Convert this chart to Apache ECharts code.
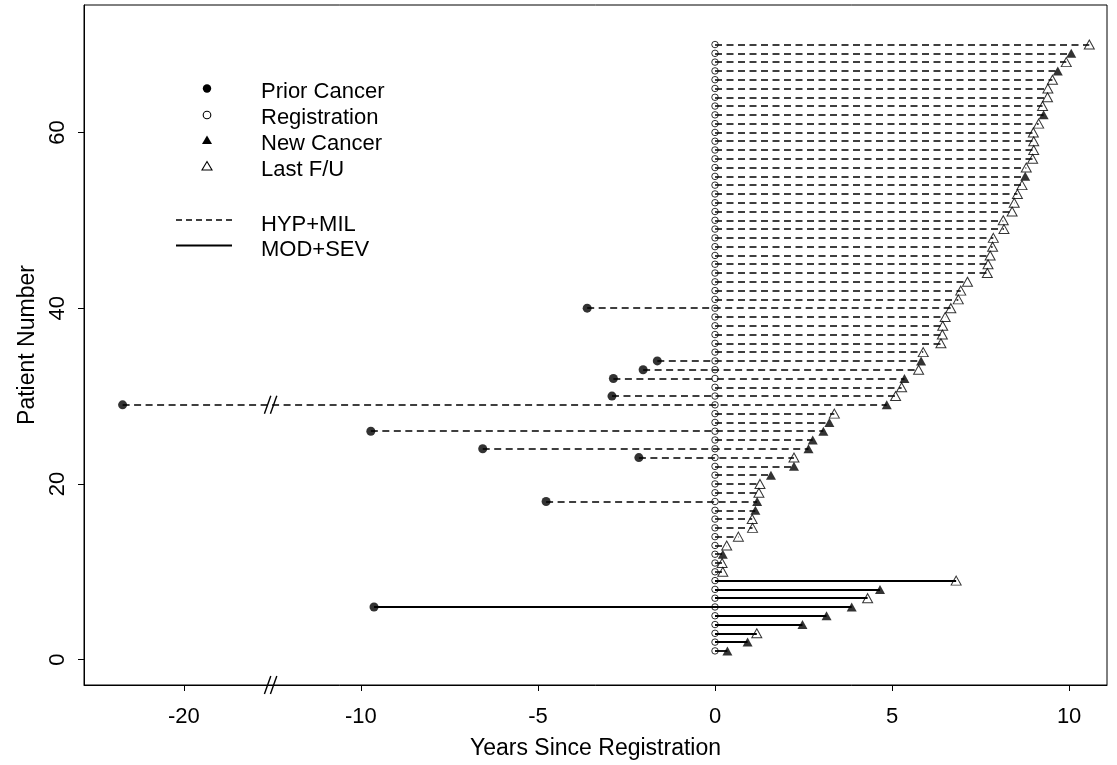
<!DOCTYPE html>
<html>
<head>
<meta charset="utf-8">
<script src="https://cdn.jsdelivr.net/npm/echarts@6/dist/echarts.min.js"></script>
<style>
html,body{margin:0;padding:0;background:#fff;}
#chart{width:1117px;height:765px;}
</style>
</head>
<body>
<div id="chart"></div>
<script>
// ---------------- data ----------------
const patientNumbers = [
  1,2,3,4,5,6,7,8,9,10,11,12,13,14,15,16,17,18,19,20,
  21,22,23,24,25,26,27,28,29,30,31,32,33,34,35,36,37,38,39,40,
  41,42,43,44,45,46,47,48,49,50,51,52,53,54,55,56,57,58,59,60,
  61,62,63,64,65,66,67,68,69,70
];
// years from registration to end of follow-up (new cancer or last F/U)
const endYears = [
  0.35,0.92,1.18,2.47,3.15,3.86,4.31,4.66,6.81,0.22,
  0.20,0.22,0.33,0.66,1.06,1.05,1.14,1.19,1.24,1.27,
  1.58,2.23,2.23,2.64,2.76,3.06,3.23,3.37,4.85,5.10,
  5.27,5.35,5.75,5.82,5.88,6.38,6.42,6.43,6.50,6.66,
  6.87,6.94,7.13,7.69,7.71,7.77,7.84,7.86,8.16,8.14,
  8.39,8.45,8.54,8.67,8.76,8.79,8.97,9.00,9.00,8.99,
  9.14,9.28,9.25,9.39,9.40,9.53,9.68,9.92,10.06,10.57
];
// N = new cancer, L = last follow-up
const endType = [
  'N','N','L','N','N','N','L','N','L','L',
  'L','N','L','L','L','L','N','N','L','L',
  'N','N','L','N','N','N','N','L','N','L',
  'L','N','L','N','L','L','L','L','L','L',
  'L','L','L','L','L','L','L','L','L','L',
  'L','L','L','L','N','L','L','L','L','L',
  'L','N','L','L','L','L','N','L','N','L'
];
// group: MOD+SEV for patients 1-9, HYP+MIL for the rest
const groupOf = [
  'S','S','S','S','S','S','S','S','S','H',
  'H','H','H','H','H','H','H','H','H','H',
  'H','H','H','H','H','H','H','H','H','H',
  'H','H','H','H','H','H','H','H','H','H',
  'H','H','H','H','H','H','H','H','H','H',
  'H','H','H','H','H','H','H','H','H','H',
  'H','H','H','H','H','H','H','H','H','H'
];
const priorPatients = [6, 18, 23, 24, 26, 29, 30, 32, 33, 34, 40];
const priorYears    = [-9.63, -4.77, -2.15, -6.56, -9.72, -21.73, -2.91, -2.87, -2.03, -1.63, -3.61];
const xTickValues = [-20, -10, -5, 0, 5, 10];
const yTickValues = [0, 20, 40, 60];

// axis break: years before BREAK_LEFT are drawn shifted right by BREAK_SHIFT
const BREAK_LEFT = -17.55;
const BREAK_SHIFT = 5;
function toAxis(v) { return v < BREAK_LEFT ? v + BREAK_SHIFT : v; }
function fromAxis(v) { return v < BREAK_LEFT + BREAK_SHIFT ? v - BREAK_SHIFT : v; }
const breakMarkX = BREAK_LEFT + BREAK_SHIFT;

// ---------------- build series data ----------------
const dashedLines = [], solidLines = [];
const regPts = [], priorPts = [], newPts = [], lastPts = [];
patientNumbers.forEach((p, i) => {
  const pi = priorPatients.indexOf(p);
  const start = pi >= 0 ? toAxis(priorYears[pi]) : 0;
  const seg = { coords: [[start, p], [toAxis(endYears[i]), p]] };
  (groupOf[i] === 'S' ? solidLines : dashedLines).push(seg);
  regPts.push([0, p]);
  if (pi >= 0) priorPts.push([toAxis(priorYears[pi]), p]);
  (endType[i] === 'N' ? newPts : lastPts).push([toAxis(endYears[i]), p]);
});

const FONT = '"Liberation Sans", Arial, Helvetica, sans-serif';
const chart = echarts.init(document.getElementById('chart'), null, { renderer: 'canvas' });

const xMin = -17.82, xMax = 11.07;
const yMin = -2.88, yMax = 74.5;

function breakMark(params, api) {
  const c = api.coord([api.value(0), api.value(1)]);
  const kids = [-3, 3].map(dx => ({
    type: 'line',
    shape: { x1: c[0] + dx - 3.2, y1: c[1] + 9, x2: c[0] + dx + 3.2, y2: c[1] - 9 },
    style: { stroke: '#000', lineWidth: 1.4 }
  }));
  return { type: 'group', children: kids };
}

const legendX = 207, legendTextX = 261;
const graphic = [
  { type: 'circle', shape: { cx: legendX, cy: 88.5, r: 4.2 }, style: { fill: '#000' } },
  { type: 'circle', shape: { cx: legendX, cy: 115, r: 3.8 }, style: { fill: 'none', stroke: '#000', lineWidth: 1.1 } },
  { type: 'polygon', shape: { points: [[legendX - 5, 144], [legendX + 5, 144], [legendX, 135.5]] }, style: { fill: '#000' } },
  { type: 'polygon', shape: { points: [[legendX - 5, 170], [legendX + 5, 170], [legendX, 161.5]] }, style: { fill: 'none', stroke: '#000', lineWidth: 1.1 } },
  { type: 'line', shape: { x1: 176, y1: 220, x2: 232, y2: 220 }, style: { stroke: '#000', lineWidth: 1.5, lineDash: [6, 4] } },
  { type: 'line', shape: { x1: 176, y1: 245.5, x2: 232, y2: 245.5 }, style: { stroke: '#000', lineWidth: 1.8 } }
];
const legendLabels = [['Prior Cancer', 92], ['Registration', 117.5], ['New Cancer', 143.5], ['Last F/U', 169.5], ['HYP+MIL', 225], ['MOD+SEV', 249.5]];
legendLabels.forEach(([t, y]) => graphic.push({
  type: 'text', x: legendTextX, y: y,
  style: { text: t, font: '22px ' + FONT, fill: '#000', textVerticalAlign: 'middle' }
}));

chart.setOption({
  animation: false,
  backgroundColor: '#fff',
  grid: { left: 84, right: 10, top: 5, bottom: 79.9, show: true, borderColor: '#000', borderWidth: 1, backgroundColor: 'transparent' },
  xAxis: {
    type: 'value', min: xMin, max: xMax,
    name: 'Years Since Registration', nameLocation: 'middle', nameGap: 52,
    nameTextStyle: { fontFamily: FONT, fontSize: 23, color: '#000' },
    axisLine: { show: true, onZero: false, lineStyle: { color: '#000', width: 1 } },
    axisTick: { show: true, length: 6, lineStyle: { color: '#000' }, customValues: xTickValues.map(toAxis) },
    axisLabel: { show: true, fontFamily: FONT, fontSize: 22, color: '#000', margin: 21,
      customValues: xTickValues.map(toAxis), formatter: v => String(Math.round(fromAxis(v))) },
    splitLine: { show: false }
  },
  yAxis: {
    type: 'value', min: yMin, max: yMax,
    name: 'Patient Number', nameLocation: 'middle', nameGap: 38, nameRotate: 90,
    nameTextStyle: { fontFamily: FONT, fontSize: 23, color: '#000' },
    axisLine: { show: true, onZero: false, lineStyle: { color: '#000', width: 1 } },
    axisTick: { show: true, length: 6, lineStyle: { color: '#000' }, customValues: yTickValues },
    axisLabel: { show: true, rotate: 90, fontFamily: FONT, fontSize: 22, color: '#000', margin: 15, customValues: yTickValues },
    splitLine: { show: false }
  },
  graphic: graphic,
  series: [
    { name: 'HYP+MIL', type: 'lines', coordinateSystem: 'cartesian2d', silent: true,
      lineStyle: { color: '#000', width: 1.5, type: [7, 4.5], opacity: 1 }, data: dashedLines, z: 2 },
    { name: 'MOD+SEV', type: 'lines', coordinateSystem: 'cartesian2d', silent: true,
      lineStyle: { color: '#000', width: 1.8, type: 'solid', opacity: 1 }, data: solidLines, z: 2 },
    { name: 'Registration', type: 'scatter', symbol: 'circle', symbolSize: 6.5, data: regPts,
      itemStyle: { color: 'rgba(0,0,0,0)', borderColor: '#000', borderWidth: 1 }, z: 3 },
    { name: 'Prior Cancer', type: 'scatter', symbol: 'circle', symbolSize: 9, data: priorPts,
      itemStyle: { color: '#000' }, z: 3 },
    { name: 'New Cancer', type: 'scatter', symbol: 'triangle', symbolSize: [10, 9], data: newPts,
      itemStyle: { color: '#000' }, z: 3 },
    { name: 'Last F/U', type: 'scatter', symbol: 'triangle', symbolSize: [10, 9], data: lastPts,
      itemStyle: { color: 'rgba(0,0,0,0)', borderColor: '#000', borderWidth: 1 }, z: 3 },
    { name: 'break', type: 'custom', renderItem: breakMark, clip: false, silent: true,
      data: [[breakMarkX, 29], [breakMarkX, yMin]], z: 4 }
  ]
});
</script>
</body>
</html>
